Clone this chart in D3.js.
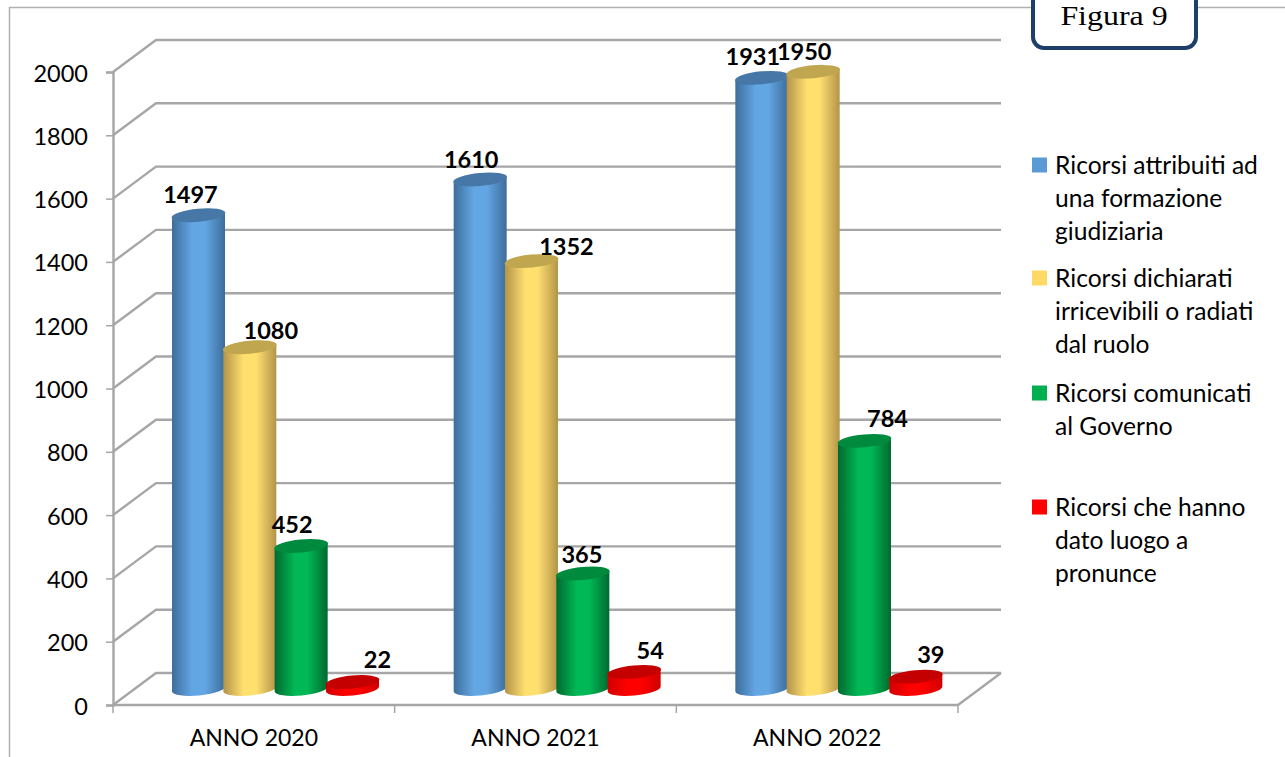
<!DOCTYPE html>
<html>
<head>
<meta charset="utf-8">
<script src="https://cdn.jsdelivr.net/npm/d3@7"></script>
<style>
  html, body { margin: 0; padding: 0; background: #fff; overflow: hidden; }
  text { font-family: Lato, "Open Sans", sans-serif; fill: #000; }
</style>
</head>
<body>
<svg class="svg" width="1285" height="757"></svg>
<script>
const categories = ['ANNO 2020', 'ANNO 2021', 'ANNO 2022'];
const seriesNames = ['attribuiti', 'irricevibili', 'comunicati', 'pronunce'];
const attribuiti = [1497, 1610, 1931];
const irricevibili = [1080, 1352, 1950];
const comunicati = [452, 365, 784];
const pronunce = [22, 54, 39];
const yTicks = [0, 200, 400, 600, 800, 1000, 1200, 1400, 1600, 1800, 2000];

const legendLabels = [
  ['Ricorsi attribuiti ad', 'una formazione', 'giudiziaria'],
  ['Ricorsi dichiarati', 'irricevibili o radiati', 'dal ruolo'],
  ['Ricorsi comunicati', 'al Governo'],
  ['Ricorsi che hanno', 'dato luogo a', 'pronunce']
];

const values = [attribuiti, irricevibili, comunicati, pronunce];

// colours: edge of cylinder, middle of cylinder, top cap
const colors = [
  { edge: '#3d6d9b', mid: '#63a6e4', top: '#4677a6', key: '#5b9bd5' },
  { edge: '#b3944a', mid: '#ffdf6e', top: '#c1a650', key: '#ffd966' },
  { edge: '#00692f', mid: '#00b855', top: '#008a3e', key: '#00b050' },
  { edge: '#d00000', mid: '#ff0000', top: '#c40000', key: '#ff0000' }
];

// hand placed data labels, [dx, dy] from the top of each bar
const labelNudge = [
  [[-8, -20], [-9, -20], [-9, -21]],
  [[21, -16], [35, -14], [-9, -20]],
  [[-9, -21], [-1, -19], [23, -22]],
  [[25, -22], [16, -21], [15, -22]]
];

const depthX = 43;
const depthY = 32;
const grey = '#a6a6a6';

const svg = d3.select('.svg');

const x = d3.scaleBand().domain(categories).range([113, 958]);
const y = d3.scaleLinear().domain([0, 2000]).range([705, 72]);
const seriesX = d3.scalePoint().domain(seriesNames).range([64, 218]);

// outer frame, cut by the page on the right and at the bottom
svg.append('path')
  .attr('d', 'M9.5,757V7.5H1285')
  .attr('fill', 'none')
  .attr('stroke', '#b0b0b0')
  .attr('stroke-width', 1.5);

// back wall and side wall lines
const grid = svg.append('g');
yTicks.forEach((t) => {
  grid.append('path')
    .attr('d', `M113,${y(t)}L${113 + depthX},${y(t) - depthY}H${958 + depthX}`)
    .attr('fill', 'none')
    .attr('stroke', grey)
    .attr('stroke-width', 2.4);
});
// floor, front and right side
grid.append('path')
  .attr('d', `M113,${y(0)}H958L${958 + depthX},${y(0) - depthY}`)
  .attr('fill', 'none')
  .attr('stroke', grey)
  .attr('stroke-width', 2.4);

// y axis
const yAxis = d3.axisLeft(y).tickValues(yTicks).tickSize(7).tickPadding(18).tickFormat(d3.format('d'));
const yG = svg.append('g').attr('transform', 'translate(113,0)').call(yAxis);
yG.select('.domain').attr('stroke', grey).attr('stroke-width', 2.4);
yG.selectAll('.tick line').attr('stroke', grey).attr('stroke-width', 1.5);
yG.selectAll('.tick text').attr('y', 1.5).attr('font-size', 23.5).style('font-family', 'Lato');

// x axis
const xAxis = d3.axisBottom(x).tickSize(0).tickPadding(25);
const xG = svg.append('g').attr('transform', `translate(0,${y(0)})`).call(xAxis);
xG.select('.domain').remove();
xG.selectAll('.tick text').attr('font-size', 23).style('font-family', 'Lato');
const xTickPos = categories.map((c) => x(c)).concat([958]);
svg.selectAll('.xtick').data(xTickPos).enter().append('line')
  .attr('x1', (d) => d)
  .attr('x2', (d) => d)
  .attr('y1', y(0))
  .attr('y2', y(0) + 8)
  .attr('stroke', grey)
  .attr('stroke-width', 1.5);

// gradients for the cylinders
const defs = svg.append('defs');
colors.forEach((c, i) => {
  const g = defs.append('linearGradient').attr('id', 'cyl' + i);
  g.append('stop').attr('offset', '0%').attr('stop-color', c.edge);
  g.append('stop').attr('offset', '38%').attr('stop-color', c.mid);
  g.append('stop').attr('offset', '62%').attr('stop-color', c.mid);
  g.append('stop').attr('offset', '100%').attr('stop-color', c.edge);
});

const rx = 26.5;
const ry = 6.5;
const tilt = 2.5; // right end of the ellipse sits higher than the left

function cylinder(cx, base, top, i) {
  const g = svg.append('g');
  const ang = -Math.atan2(tilt, rx) * 180 / Math.PI;
  g.append('path')
    .attr('d', `M${cx - rx},${top + tilt}L${cx - rx},${base + tilt}`
      + `A${rx},${ry},${ang},0,0,${cx + rx},${base - tilt}`
      + `L${cx + rx},${top - tilt}Z`)
    .attr('fill', `url(#cyl${i})`);
  g.append('ellipse')
    .attr('cx', cx)
    .attr('cy', top)
    .attr('rx', rx + 0.5)
    .attr('ry', ry)
    .attr('transform', `rotate(${ang},${cx},${top})`)
    .attr('fill', colors[i].top);
}

const baseY = y(0) - depthY / 2;
seriesNames.forEach((s, i) => {
  categories.forEach((c, j) => {
    const cx = x(c) + seriesX(s) + depthX / 2;
    const top = baseY - (y(0) - y(values[i][j]));
    cylinder(cx, baseY, top, i);
  });
});

// data labels on top of all the bars
seriesNames.forEach((s, i) => {
  categories.forEach((c, j) => {
    const cx = x(c) + seriesX(s) + depthX / 2;
    const top = baseY - (y(0) - y(values[i][j]));
    svg.append('text')
      .attr('x', cx + labelNudge[i][j][0])
      .attr('y', top + labelNudge[i][j][1])
      .attr('dy', '0.35em')
      .attr('text-anchor', 'middle')
      .attr('font-size', 23.5)
      .attr('font-weight', 700)
      .text(values[i][j]);
  });
});

// legend
const legendY = [165, 278, 393, 507];
legendLabels.forEach((lines, i) => {
  svg.append('rect')
    .attr('x', 1032)
    .attr('y', legendY[i] - 7.5)
    .attr('width', 15)
    .attr('height', 15)
    .attr('fill', colors[i].key);
  lines.forEach((l, k) => {
    svg.append('text')
      .attr('x', 1055)
      .attr('y', legendY[i] + k * 33)
      .attr('dy', '0.35em')
      .attr('font-size', 24.6)
      .text(l);
  });
});

// Figura 9 box
svg.append('rect')
  .attr('x', 1033)
  .attr('y', -20)
  .attr('width', 163)
  .attr('height', 68)
  .attr('rx', 11)
  .attr('fill', '#fff')
  .attr('stroke', '#1f3f6b')
  .attr('stroke-width', 4);
// stretched sideways like the scan, kept low enough not to touch the page edge
svg.append('text')
  .attr('transform', 'translate(1114,25) scale(1.14,1)')
  .attr('text-anchor', 'middle')
  .attr('font-size', 28)
  .style('font-family', '"Liberation Serif"')
  .text('Figura 9');
</script>
</body>
</html>
